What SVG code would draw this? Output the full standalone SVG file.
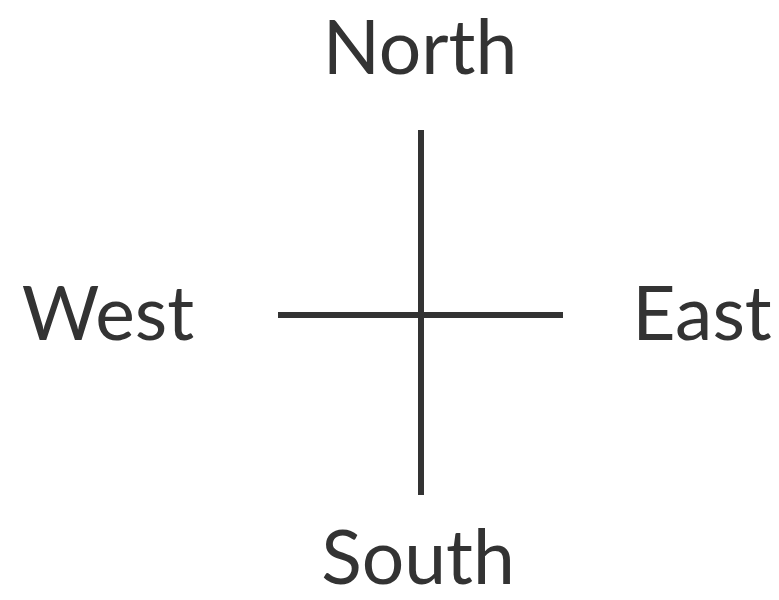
<svg xmlns="http://www.w3.org/2000/svg" width="779" height="600" viewBox="0 0 779 600">
<style>
text { font-family: Lato, "Open Sans", sans-serif; font-size: 75px; fill: #333333; text-anchor: middle; }
.ax { stroke: #333333; stroke-width: 6; stroke-linecap: butt; fill: none; }
</style>
<rect width="779" height="600" fill="#ffffff"/>
<g id="connectors">
<line class="ax" x1="421" y1="130" x2="421" y2="495"/>
<line class="ax" x1="278" y1="315" x2="563" y2="315"/>
</g>
<g id="north"><text x="420" y="74">North</text></g>
<g id="west"><text x="108" y="340">West</text></g>
<g id="east"><text x="702" y="340">East</text></g>
<g id="south"><text x="418" y="584">South</text></g>
</svg>
